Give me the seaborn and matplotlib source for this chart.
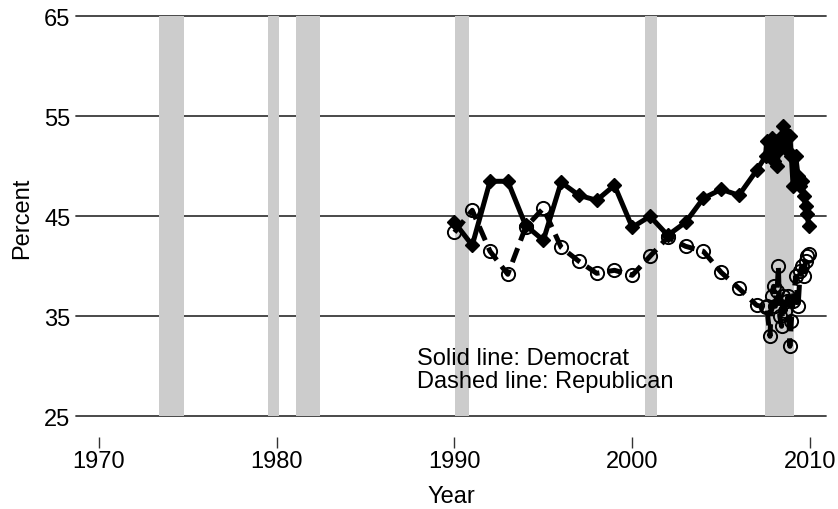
import matplotlib
matplotlib.use("Agg")
import matplotlib.pyplot as plt
import seaborn as sns
import pandas as pd

sns.set_style("white")
plt.rcParams['font.family'] = ['Liberation Sans', 'DejaVu Sans']
plt.rcParams['text.color'] = 'black'
plt.rcParams['axes.labelcolor'] = 'black'
plt.rcParams['xtick.color'] = 'black'
plt.rcParams['ytick.color'] = 'black'

# ---- data ----
years = [1990, 1991, 1992, 1993, 1994, 1995, 1996, 1997, 1998, 1999, 2000,
         2001, 2002, 2003, 2004, 2005, 2006, 2007.0,
         2007.5, 2007.56, 2007.75, 2007.85, 2007.95, 2008.05, 2008.15, 2008.22,
         2008.3, 2008.4, 2008.5, 2008.6, 2008.7, 2008.77, 2008.87, 2008.95,
         2009.05, 2009.2, 2009.33, 2009.45, 2009.55, 2009.65, 2009.75, 2009.85, 2009.92]
democrat = [44.4, 42.1, 48.5, 48.5, 44.1, 42.6, 48.4, 47.1, 46.6, 48.1, 43.9,
            45.0, 43.1, 44.4, 46.8, 47.7, 47.1, 49.6,
            51.0, 52.5, 51.0, 52.8, 50.5, 52.5, 50.0, 51.5,
            52.0, 53.0, 54.0, 52.0, 53.2, 51.5, 53.0, 51.0,
            48.0, 51.0, 49.0, 48.0, 48.5, 47.0, 46.0, 45.2, 44.0]
republican = [43.4, 45.6, 41.5, 39.2, 43.9, 45.8, 41.9, 40.5, 39.3, 39.6, 39.1,
              41.0, 42.9, 42.0, 41.5, 39.4, 37.8, 36.1,
              35.9, 36.0, 33.0, 37.0, 38.0, 36.0, 37.5, 40.0,
              35.0, 34.0, 37.0, 35.5, 36.5, 37.0, 32.0, 34.5,
              36.5, 39.0, 36.0, 39.5, 40.0, 39.0, 40.5, 41.0, 41.2]
recession_start = [1973.38, 1979.52, 1981.07, 1990.03, 2000.72, 2007.47]
recession_end = [1974.80, 1980.13, 1982.45, 1990.82, 2001.39, 2009.10]
y_ticks = [25, 35, 45, 55, 65]
x_ticks = [1970, 1980, 1990, 2000, 2010]
note_lines = ["Solid line: Democrat", "Dashed line: Republican"]

df = pd.DataFrame({"year": years, "Democrat": democrat, "Republican": republican})

fig = plt.figure(figsize=(8.38, 5.10), dpi=100)
ax = fig.add_axes([76/838, 1 - 417.3/510, 750/838, 400/510])

# horizontal grid lines
for yv in y_ticks:
    ax.axhline(yv, color="#3a3a3a", lw=1.3, zorder=1, clip_on=False)

# recession bands
for s, e in zip(recession_start, recession_end):
    ax.axvspan(s, e, color="#cccccc", lw=0, zorder=2)

sns.lineplot(data=df, x="year", y="Republican", ax=ax, color="black",
             linewidth=3.6, linestyle=(0, (3.0, 1.6)), marker="o",
             markersize=9.5, markerfacecolor="none", markeredgecolor="black",
             markeredgewidth=1.4, zorder=3)
sns.lineplot(data=df, x="year", y="Democrat", ax=ax, color="black",
             linewidth=3.6, marker="D", markersize=7.5,
             markerfacecolor="black", markeredgecolor="black",
             markeredgewidth=1, zorder=4)

ax.text(1987.89, 30.23, note_lines[0], fontsize=17, ha="left", va="baseline",
        color="black", zorder=5)
ax.text(1987.89, 27.93, note_lines[1], fontsize=17, ha="left", va="baseline",
        color="black", zorder=5)

ax.set_xlim(1968.71, 2010.9)
ax.set_ylim(25, 65)
ax.set_yticks(y_ticks)
ax.set_xticks(x_ticks)
ax.set_yticklabels([str(v) for v in y_ticks])
ax.set_xticklabels([str(v) for v in x_ticks])

for sp in ax.spines.values():
    sp.set_visible(False)
ax.spines["bottom"].set_position(("outward", 15))

ax.tick_params(axis="y", length=0, pad=4, labelsize=17, labelcolor="black")
ax.tick_params(axis="x", length=7.6, width=1, color="#333333", direction="out",
               pad=2, labelsize=17, bottom=True, labelcolor="black")

ax.set_xlabel("Year", fontsize=17, color="black")
ax.set_ylabel("Percent", fontsize=17, color="black")
ax.xaxis.set_label_coords((451 - 76) / 750, (417.3 - 497) / 400)
ax.xaxis.label.set_va("center")
ax.yaxis.set_label_coords((22 - 76) / 750, (417.3 - 218) / 400)
ax.yaxis.label.set_va("center")

fig.savefig("out.png", dpi=100)
